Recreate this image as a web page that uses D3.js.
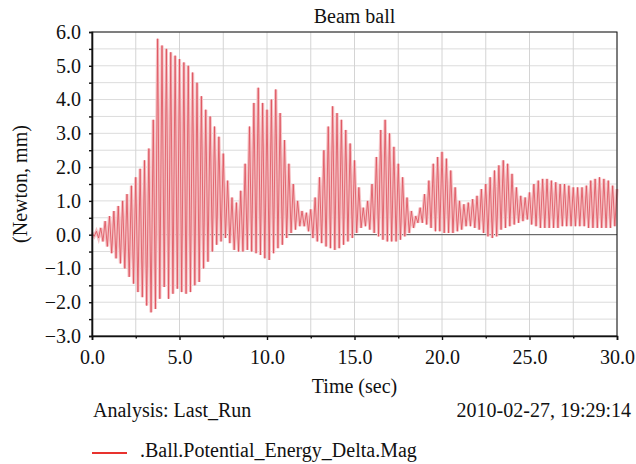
<!DOCTYPE html>
<html>
<head>
<meta charset="utf-8">
<script src="https://cdn.jsdelivr.net/npm/d3@7"></script>
</head>
<body style="margin:0">
<div id="chart"></div>
<script>
// Beam ball - potential energy delta

const title = "Beam ball";
const yLabel = "(Newton, mm)";
const xLabel = "Time (sec)";
const analysisText = "Analysis: Last_Run";
const dateText = "2010-02-27, 19:29:14";
const seriesName = ".Ball.Potential_Energy_Delta.Mag";

const cycle = 0.25; // one oscillation every 0.25 sec (approx.)

// peak of each oscillation, one per 0.25 sec, from t = 0
const peaks = [
  0.05, 0.1, 0.2, 0.4, 0.55, 0.7, 0.85, 1.0,
  1.2, 1.45, 1.7, 1.95, 2.2, 2.55, 3.4, 5.8,
  5.6, 5.5, 5.4, 5.3, 5.2, 5.1, 5.0, 4.8,
  4.5, 4.1, 3.7, 3.5, 3.2, 2.9, 2.4, 1.6,
  1.1, 0.95, 1.3, 2.1, 3.2, 3.9, 4.35, 3.9,
  3.7, 4.0, 4.3, 3.6, 2.8, 2.1, 1.5, 1.0,
  0.7, 0.65, 0.75, 1.1, 1.7, 2.5, 3.2, 3.8,
  3.6, 3.4, 3.1, 2.7, 2.2, 1.4, 0.8, 1.0,
  1.5, 2.3, 3.1, 3.4, 3.0, 2.6, 2.1, 1.7,
  1.1, 0.7, 0.55, 0.8, 1.2, 1.6, 2.1, 2.3,
  2.45, 2.25, 1.9, 1.4, 1.0, 0.9, 0.95, 1.05,
  1.15, 1.35, 1.5, 1.7, 1.9, 2.05, 2.2, 2.1,
  1.8, 1.4, 1.15, 1.1, 1.25, 1.5, 1.6, 1.65,
  1.65, 1.6, 1.55, 1.5, 1.5, 1.45, 1.4, 1.4,
  1.4, 1.45, 1.6, 1.65, 1.7, 1.65, 1.6, 1.45
];

// trough of each oscillation, half a cycle after each peak
const troughs = [
  -0.05, -0.1, -0.2, -0.35, -0.55, -0.7, -0.85, -1.0,
  -1.25, -1.45, -1.7, -1.85, -2.1, -2.3, -2.2, -1.9,
  -1.55, -1.9, -1.75, -1.6, -1.7, -1.75, -1.7, -1.5,
  -1.4, -1.0, -0.8, -0.5, -0.3, -0.2, -0.1, -0.25,
  -0.45, -0.5, -0.5, -0.45, -0.5, -0.55, -0.6, -0.7,
  -0.75, -0.55, -0.4, -0.3, -0.1, 0.05, 0.15, 0.25,
  0.25, 0.1, -0.1, -0.2, -0.25, -0.35, -0.4, -0.45,
  -0.4, -0.3, -0.2, -0.1, 0.05, 0.2, 0.25, 0.15,
  0.05, -0.05, -0.15, -0.2, -0.2, -0.2, -0.15, -0.05,
  0.05, 0.2, 0.35, 0.35, 0.3, 0.2, 0.1, 0.1,
  0.05, 0.05, 0.05, 0.1, 0.15, 0.25, 0.25, 0.2,
  0.15, 0.05, -0.05, -0.1, -0.05, 0.15, 0.2, 0.25,
  0.3, 0.35, 0.4, 0.45, 0.3, 0.25, 0.2, 0.2,
  0.2, 0.2, 0.2, 0.25, 0.25, 0.25, 0.25, 0.25,
  0.25, 0.2, 0.2, 0.2, 0.2, 0.2, 0.2, 0.25
];

const xTicks = [0, 2.5, 5, 7.5, 10, 12.5, 15, 17.5, 20, 22.5, 25, 27.5, 30];
const yTicks = [-3, -2.5, -2, -1.5, -1, -0.5, 0, 0.5, 1, 1.5, 2, 2.5, 3, 3.5, 4, 4.5, 5, 5.5, 6];

const width = 636;
const height = 464;
const margin = { top: 32, left: 92, right: 19, bottom: 128 };
const serif = "'Liberation Serif'";
const fontSize = 20;

const svg = d3.select("#chart").append("svg")
  .attr("width", width)
  .attr("height", height);

const x = d3.scaleLinear().domain([0, 30]).range([margin.left, width - margin.right]);
const y = d3.scaleLinear().domain([-3, 6]).range([height - margin.bottom, margin.top]);

const fmt = v => d3.format(".1f")(v).replace("-", "\u2212");

// grid
svg.append("g")
  .selectAll("line")
  .data(yTicks)
  .join("line")
  .attr("x1", x(0)).attr("x2", x(30))
  .attr("y1", d => y(d)).attr("y2", d => y(d))
  .attr("stroke", "#dcdcdc");

svg.append("g")
  .selectAll("line")
  .data(xTicks)
  .join("line")
  .attr("x1", d => x(d)).attr("x2", d => x(d))
  .attr("y1", y(-3)).attr("y2", y(6))
  .attr("stroke", "#d4d4d4");

// zero line
svg.append("line")
  .attr("x1", x(0)).attr("x2", x(30))
  .attr("y1", y(0)).attr("y2", y(0))
  .attr("stroke", "#555")
  .attr("stroke-width", 1);

// signal: peak, trough, peak, ...
const points = [];
peaks.forEach((p, i) => {
  points.push([i * cycle, p]);
  points.push([i * cycle + cycle / 2, troughs[i]]);
});
points.push([30, 1.35]);

const line = d3.line().x(d => x(d[0])).y(d => y(d[1]));

// soft halo then the thin trace, to get the blurred pink look
svg.append("path")
  .datum(points)
  .attr("d", line)
  .attr("fill", "none")
  .attr("stroke", "#f5c2c5")
  .attr("stroke-width", 3.2);

svg.append("path")
  .datum(points)
  .attr("d", line)
  .attr("fill", "none")
  .attr("stroke", "#dd4f5a")
  .attr("stroke-width", 0.8);

// frame
svg.append("rect")
  .attr("x", x(0)).attr("y", y(6))
  .attr("width", x(30) - x(0))
  .attr("height", y(-3) - y(6))
  .attr("fill", "none")
  .attr("stroke", "#111")
  .attr("stroke-width", 1);

// axes
const yAxis = d3.axisLeft(y)
  .tickValues(yTicks)
  .tickSize(3)
  .tickPadding(8)
  .tickFormat(d => Number.isInteger(d) ? fmt(d) : "");

const gy = svg.append("g")
  .attr("transform", "translate(" + x(0) + ",0)")
  .call(yAxis);

const xAxis = d3.axisBottom(x)
  .tickValues(xTicks)
  .tickSize(4)
  .tickPadding(10)
  .tickFormat(d => d % 5 === 0 ? fmt(d) : "");

const gx = svg.append("g")
  .attr("transform", "translate(0," + y(-3) + ")")
  .call(xAxis);

[gx, gy].forEach(g => {
  g.attr("font-family", serif).attr("font-size", fontSize);
  g.select(".domain").attr("stroke", "#111").attr("stroke-width", 1.6);
  g.selectAll(".tick line").attr("stroke", "#111").attr("stroke-width", 1.4);
  g.selectAll(".tick text")
    .attr("fill", "#111")
    .style("font-family", serif);
});
gx.selectAll(".tick line").attr("y2", d => d % 5 === 0 ? 4 : 2.5);

function label(txt, xPos, yPos, anchor) {
  return svg.append("text")
    .attr("x", xPos)
    .attr("y", yPos)
    .attr("text-anchor", anchor)
    .style("font-family", serif)
    .attr("font-size", fontSize)
    .attr("fill", "#111")
    .text(txt);
}

// titles
label(title, (x(0) + x(30)) / 2, 23, "middle");
label(yLabel, 0, 0, "middle")
  .attr("transform", "translate(27," + (y(6) + y(-3)) / 2 + ") rotate(-90)");
label(xLabel, (x(0) + x(30)) / 2, 393, "middle");
label(analysisText, 93, 417, "start");
label(dateText, 631, 417, "end");

// legend
svg.append("line")
  .attr("x1", 92).attr("x2", 127)
  .attr("y1", 453).attr("y2", 453)
  .attr("stroke", "#e8322e")
  .attr("stroke-width", 2);

label(seriesName, 140, 457, "start");
</script>
</body>
</html>
